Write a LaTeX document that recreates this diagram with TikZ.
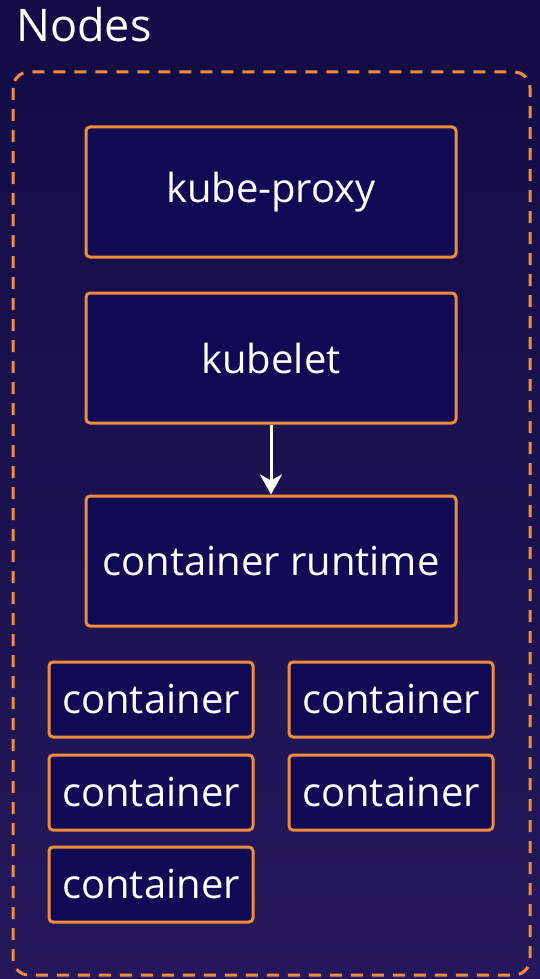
\documentclass[tikz,border=0pt]{standalone}
\usepackage{fontspec}
\setmainfont{Open Sans}
\usepackage{tikz}
\usetikzlibrary{arrows.meta}
\definecolor{bgtop}{RGB}{18,11,70}
\definecolor{bgbot}{RGB}{36,24,90}
\definecolor{boxfill}{RGB}{16,10,84}
\definecolor{kborder}{RGB}{240,140,60}
\tikzset{
  part/.style={draw=kborder, line width=3pt, fill=boxfill, rounded corners=4pt,
    text=white, font=\fontsize{40}{44}\selectfont, inner sep=0pt},
  bigpart/.style={part, minimum width=370pt, minimum height=130pt},
  smallpart/.style={part, minimum width=204pt, minimum height=75pt},
}
\begin{document}
\begin{tikzpicture}[x=1pt, y=-1pt]
%%%%% Background %%%%%
\useasboundingbox (0,0) rectangle (540,979);
\shade[top color=bgtop, bottom color=bgbot] (0,0) rectangle (540,979);
%%%%% Node group %%%%%
\node[anchor=base west, text=white, font=\fontsize{45}{50}\selectfont, inner sep=0pt] (title) at (16,42) {Nodes};
\draw[kborder, line width=3pt, dash pattern=on 12pt off 9pt, rounded corners=16pt] (13,72) rectangle (530,975);
%%%%% Components %%%%%
\node[bigpart] (proxy) at (271,192) {kube-proxy};
\node[bigpart] (kubelet) at (271,358) {kubelet};
\node[bigpart] (runtime) at (271,561) {container runtime};
\draw[-{Stealth[length=20pt, width=22pt, inset=6pt]}, white, line width=3pt] (kubelet) -- (runtime);
%%%%% Containers %%%%%
\node[smallpart] (c1) at (151,699.5) {container};
\node[smallpart] (c2) at (391,699.5) {container};
\node[smallpart] (c3) at (151,792.5) {container};
\node[smallpart] (c4) at (391,792.5) {container};
\node[smallpart] (c5) at (151,884.5) {container};
\end{tikzpicture}
\end{document}
